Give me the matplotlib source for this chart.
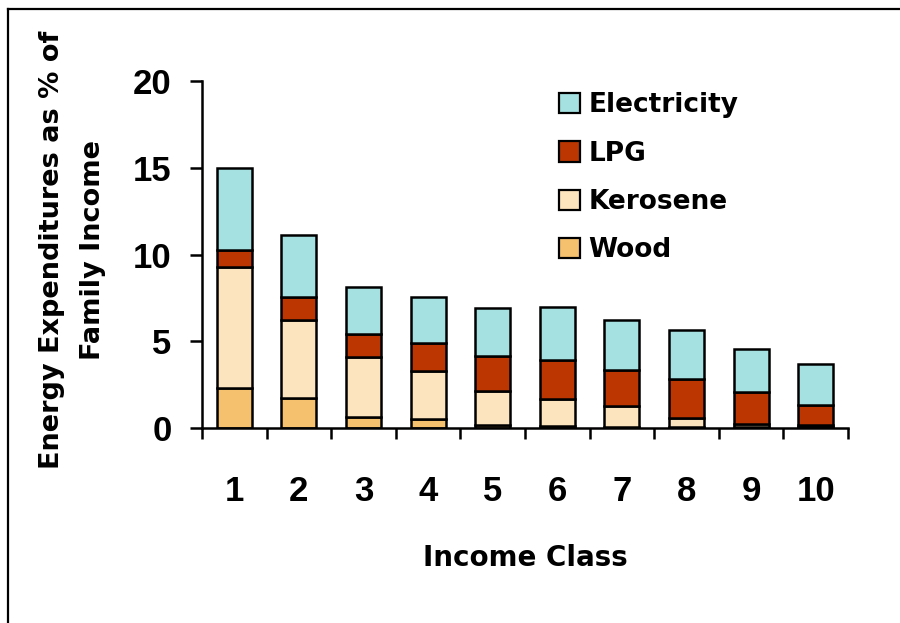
import matplotlib
matplotlib.use("Agg")
import matplotlib.pyplot as plt
from matplotlib.patches import Patch
from matplotlib.lines import Line2D
import numpy as np

plt.rcParams['font.family'] = ['Liberation Sans', 'DejaVu Sans']
plt.rcParams['font.weight'] = 'bold'

income_class = ['1', '2', '3', '4', '5', '6', '7', '8', '9', '10']
wood        = [2.3, 1.75, 0.65, 0.5, 0.15, 0.1, 0.05, 0.05, 0.05, 0.05]
kerosene    = [7.0, 4.5, 3.45, 2.8, 2.0, 1.6, 1.2, 0.55, 0.2, 0.15]
lpg         = [0.95, 1.3, 1.3, 1.6, 2.0, 2.2, 2.1, 2.2, 1.85, 1.15]
electricity = [4.75, 3.6, 2.75, 2.65, 2.75, 3.05, 2.9, 2.85, 2.45, 2.35]

series = [
    ('Wood', wood, '#F5C16E'),
    ('Kerosene', kerosene, '#FCE4BE'),
    ('LPG', lpg, '#BB3600'),
    ('Electricity', electricity, '#A6E1E1'),
]

label_font = ['DejaVu Sans']

fig = plt.figure(figsize=(9, 6.23), dpi=100)
ax = fig.add_axes([202/900, 1 - 428/623, 646/900, 347/623])

x = np.arange(1, len(income_class) + 1)
bottom = np.zeros(len(x))
for name, vals, col in series:
    ax.bar(x, vals, width=0.54, bottom=bottom, color=col,
           edgecolor='black', linewidth=1.8, label=name, zorder=2)
    bottom += np.array(vals)

ax.set_xlim(0.5, 10.5)
ax.set_ylim(0, 20)
ax.set_yticks([0, 5, 10, 15, 20])

# category labels at bar centres, tick marks on the boundaries
ax.set_xticks(x)
ax.set_xticklabels(income_class)
ax.set_xticks(np.arange(0.5, 11, 1), minor=True)
ax.tick_params(axis='x', which='major', length=0, pad=34, labelsize=25)
ax.tick_params(axis='x', which='minor', length=8, width=1.8, direction='out')
ax.tick_params(axis='y', length=9, width=1.8, direction='out', pad=13, labelsize=25)
for lab in ax.get_xticklabels() + ax.get_yticklabels():
    lab.set_fontweight('bold')

for s in ['top', 'right']:
    ax.spines[s].set_visible(False)
for s in ['left', 'bottom']:
    ax.spines[s].set_linewidth(1.8)

ax.set_xlabel('Income Class', fontsize=20, fontweight='bold', labelpad=0,
              family=label_font)
ax.xaxis.set_label_coords(0.5, -0.335)
fig.text(73/900, 1 - 250/623, 'Energy Expenditures as % of\nFamily Income',
         rotation=90, ha='center', va='center', multialignment='center',
         fontsize=19.5, fontweight='bold', linespacing=1.75, family=label_font)

handles = [Patch(facecolor=c, edgecolor='black', linewidth=1.6, label=n)
           for n, _, c in reversed(series)]
ax.legend(handles=handles, loc='upper left', bbox_to_anchor=(546/900, 1 - 79/623),
          bbox_transform=fig.transFigure, frameon=False, borderpad=0,
          handlelength=0.8, handleheight=0.8, handletextpad=0.3,
          labelspacing=0.85, prop={'size': 19, 'weight': 'bold', 'family': label_font})

# outer frame (open on the right and bottom)
fig.add_artist(Line2D([8/900, 8/900], [0, 1 - 9/623], color='black', lw=1.6,
                      transform=fig.transFigure))
fig.add_artist(Line2D([8/900, 1], [1 - 9/623, 1 - 9/623], color='black', lw=1.6,
                      transform=fig.transFigure))

fig.savefig('out.png', dpi=100)
